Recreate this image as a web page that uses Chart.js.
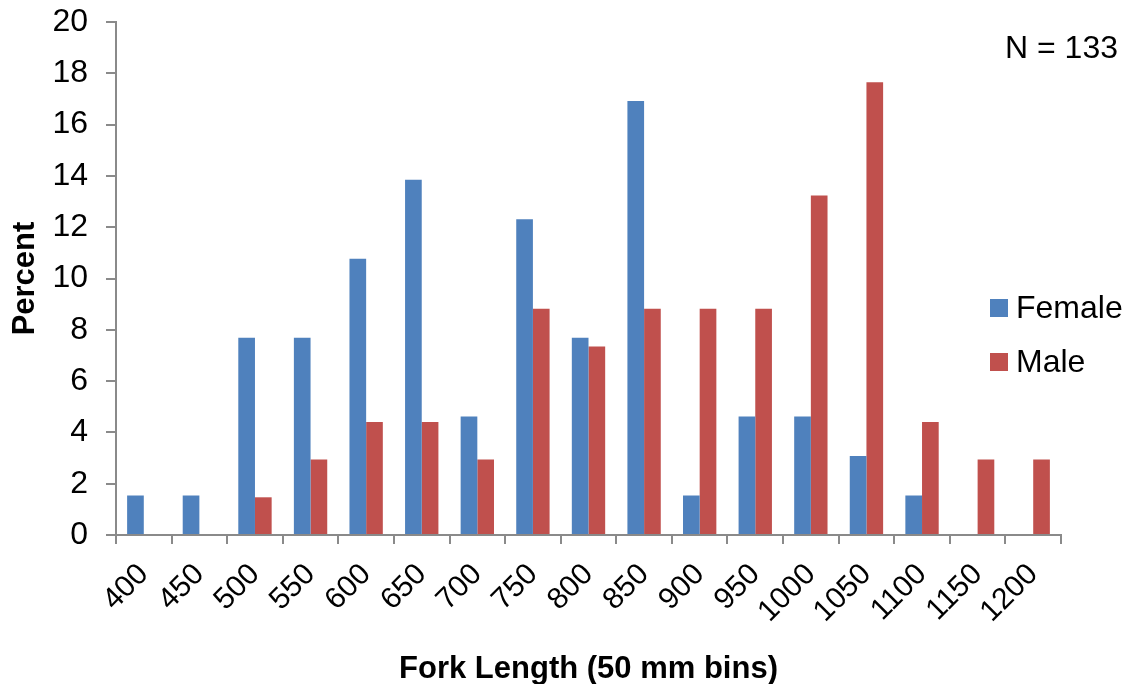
<!DOCTYPE html>
<html>
<head>
<meta charset="utf-8">
<script src="https://cdn.jsdelivr.net/npm/chart.js@4/dist/chart.umd.min.js"></script>
<style>
  html, body { margin: 0; padding: 0; background: #fff; }
  #wrap { width: 1128px; height: 684px; }
</style>
</head>
<body>
<div id="wrap"><canvas id="barChart" width="1128" height="684"></canvas></div>
<script>
// Fork length bins (mm)
const bins = ["400", "450", "500", "550", "600", "650", "700", "750", "800",
              "850", "900", "950", "1000", "1050", "1100", "1150", "1200"];

// Percent of fish in each bin
const female = [1.54, 1.54, 7.69, 7.69, 10.77, 13.85, 4.62, 12.31, 7.69,
                16.92, 1.54, 4.62, 4.62, 3.08, 1.54, 0, 0];
const male = [0, 0, 1.47, 2.94, 4.41, 4.41, 2.94, 8.82, 7.35,
              8.82, 8.82, 8.82, 13.24, 17.65, 4.41, 2.94, 2.94];

const sampleNote = "N = 133";

const FONT = '"Liberation Sans", Arial, sans-serif';
const AXIS_GREY = "#8a8a8a";

// legend + N label drawn inside the plot, like the Excel original
const extras = {
  id: "extras",
  afterDraw(chart) {
    const ctx = chart.ctx;
    const area = chart.chartArea;
    ctx.save();
    ctx.font = "32px " + FONT;
    ctx.fillStyle = "#000";
    ctx.textBaseline = "alphabetic";
    ctx.textAlign = "right";
    ctx.fillText(sampleNote, chart.width - 10, 58);

    ctx.textAlign = "left";
    ctx.textBaseline = "middle";
    chart.data.datasets.forEach((ds, i) => {
      const y = 308 + i * 54;
      const x = area.right - 71;
      ctx.fillStyle = ds.backgroundColor;
      ctx.fillRect(x, y - 9, 18, 18);
      ctx.fillStyle = "#000";
      ctx.fillText(ds.label, x + 26, y + 1);
    });
    ctx.restore();
  }
};

const ctx = document.getElementById("barChart").getContext("2d");
new Chart(ctx, {
  type: "bar",
  data: {
    labels: bins,
    datasets: [
      { label: "Female", data: female, backgroundColor: "#4F81BD" },
      { label: "Male", data: male, backgroundColor: "#C0504D" }
    ]
  },
  options: {
    responsive: false,
    animation: false,
    datasets: {
      bar: { categoryPercentage: 0.6, barPercentage: 1.0 }
    },
    layout: { padding: { top: 22, right: 67, left: 0, bottom: 0 } },
    plugins: {
      legend: { display: false },
      tooltip: { enabled: false }
    },
    scales: {
      x: {
        afterFit(scale) {
          scale.paddingLeft = 0;
          scale.paddingRight = 0;
          scale.height = 149;
        },
        grid: {
          offset: true,
          drawOnChartArea: false,
          drawTicks: true,
          tickLength: 9,
          color: AXIS_GREY,
          lineWidth: 2
        },
        border: { color: AXIS_GREY, width: 2 },
        ticks: {
          autoSkip: false,
          color: "#000",
          font: { family: FONT, size: 30 },
          minRotation: 45,
          maxRotation: 45,
          padding: 13
        },
        title: {
          display: true,
          text: "Fork Length (50 mm bins)",
          color: "#000",
          font: { family: FONT, size: 31, weight: "bold" },
          padding: { top: 0, bottom: -4 }
        }
      },
      y: {
        min: 0,
        max: 20,
        afterFit(scale) {
          scale.paddingTop = 0;
          scale.paddingBottom = 0;
          scale.width = 116;
        },
        ticks: {
          stepSize: 2,
          color: "#000",
          font: { family: FONT, size: 32 },
          padding: 18
        },
        grid: {
          drawOnChartArea: false,
          drawTicks: true,
          tickLength: 10,
          color: AXIS_GREY,
          lineWidth: 2
        },
        border: { color: AXIS_GREY, width: 2 },
        title: {
          display: true,
          text: "Percent",
          color: "#000",
          font: { family: FONT, size: 31, weight: "bold" },
          padding: { top: 7, bottom: 0 }
        }
      }
    }
  },
  plugins: [extras]
});
</script>
</body>
</html>
